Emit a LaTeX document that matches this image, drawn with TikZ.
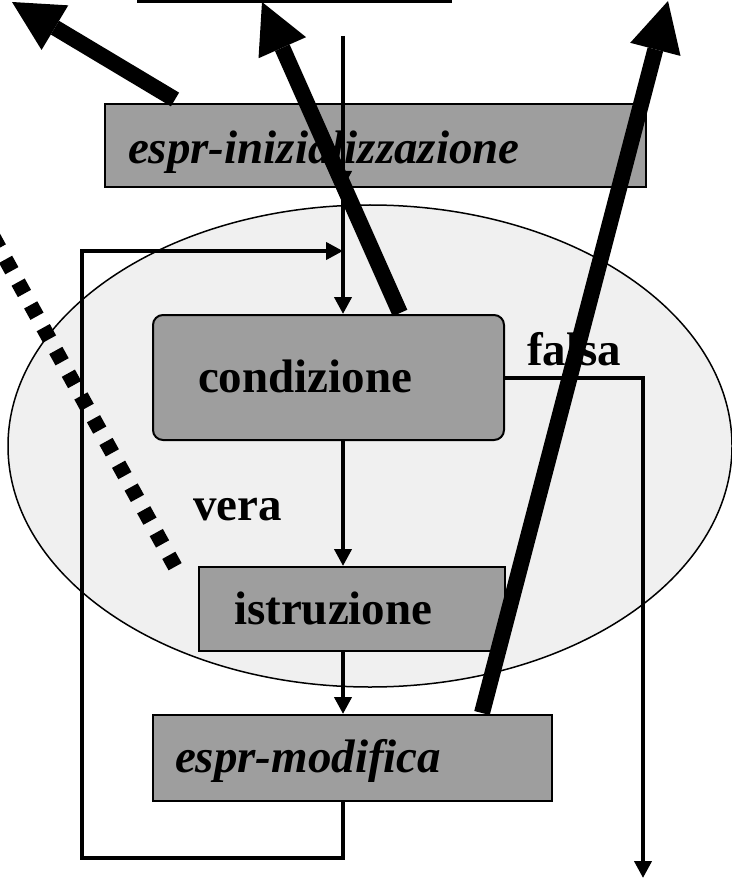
\documentclass[tikz,border=0pt]{standalone}
\usepackage{fontspec}
\setmainfont{Liberation Serif}
\usetikzlibrary{arrows.meta,calc}
\definecolor{boxgray}{RGB}{158,158,158}
\definecolor{ovalgray}{RGB}{240,240,240}
\tikzset{
  bigfont/.style={font=\bfseries\fontsize{47pt}{56pt}\selectfont},
  flowbox/.style={draw=black, line width=2pt, fill=boxgray, anchor=north west,
    inner ysep=0pt, align=left, text depth=0pt, bigfont},
  flow/.style={line width=4pt, line join=miter, -{Triangle[width=17pt,length=17pt]}},
  bigarrow/.style={line width=16pt, -{Triangle[width=52pt,length=50pt,line width=0pt]}},
  tag/.style={bigfont, anchor=base west, inner sep=0pt},
  dotline/.style={line width=15pt, dash pattern=on 13pt off 13pt},
}
\begin{document}
\begin{tikzpicture}[x=1pt, y=-1pt]
  \useasboundingbox (0,0) rectangle (731,882);

  % shaded region around the loop test
  \draw[fill=ovalgray, line width=1.5pt] (370,446) ellipse [x radius=362pt, y radius=241pt];

  % edge of the enclosing block above
  \coordinate (topL) at (137,1.75);
  \coordinate (topR) at (452,1.75);
  \draw[line width=3.5pt] (topL) -- (topR);

  % flowchart blocks
  \node[flowbox, font=\bfseries\itshape\fontsize{47pt}{56pt}\selectfont,
        minimum height=83pt, inner xsep=23pt, text width=495pt, text height=37pt]
        (init) at (104,103) {espr-inizializzazione};
  \node[flowbox, rounded corners=10pt, minimum height=125pt, inner xsep=45pt,
        text width=261pt, text height=29pt]
        (cond) at (152,314) {condizione};
  \node[flowbox, minimum height=84pt, inner xsep=35pt, text width=236pt, text height=30pt]
        (istr) at (198,566) {istruzione};
  \node[flowbox, font=\bfseries\itshape\fontsize{47pt}{56pt}\selectfont,
        minimum height=86pt, inner xsep=22pt, text width=355pt, text height=28pt]
        (modif) at (152,714) {espr-modifica};

  % control flow
  \coordinate (spine) at (343,0);
  \coordinate (entry) at (343,36);
  \coordinate (loopcorner) at (82,858);
  \coordinate (looptop) at (82,251);
  \coordinate (exit) at (643,878);

  \draw[flow] (entry) -- (init.south -| spine) ;
  \draw[flow] (init.south -| spine) -- (cond.north -| spine);
  \draw[flow] (cond.south -| spine) -- (istr.north -| spine);
  \draw[flow] (istr.south -| spine) -- (modif.north -| spine);
  \draw[flow] (modif.south -| spine) |- (loopcorner) -- (looptop) -- (looptop -| spine);
  \draw[flow] (cond.east) -| (exit);

  \node[tag] (vera) at (193,520) {vera};
  \node[tag] (falsa) at (527,365) {falsa};

  % dotted boundary
  \coordinate (dotA) at (175.1,566.7);
  \coordinate (dotB) at (-13.3,225.1);
  \draw[dotline] (dotA) -- (dotB);

  % heavy arrows pointing out of the figure
  \coordinate (tipA) at (12,2);
  \coordinate (tipB) at (262,2);
  \coordinate (tipC) at (668,1);
  \draw[bigarrow] ([xshift=71pt, yshift=3.5pt]init.north west) -- (tipA);
  \draw[bigarrow] ([xshift=248pt, yshift=1pt]cond.north west) -- (tipB);
  \draw[bigarrow] ([xshift=330pt, yshift=1pt]modif.north west) -- (tipC);
\end{tikzpicture}
\end{document}
